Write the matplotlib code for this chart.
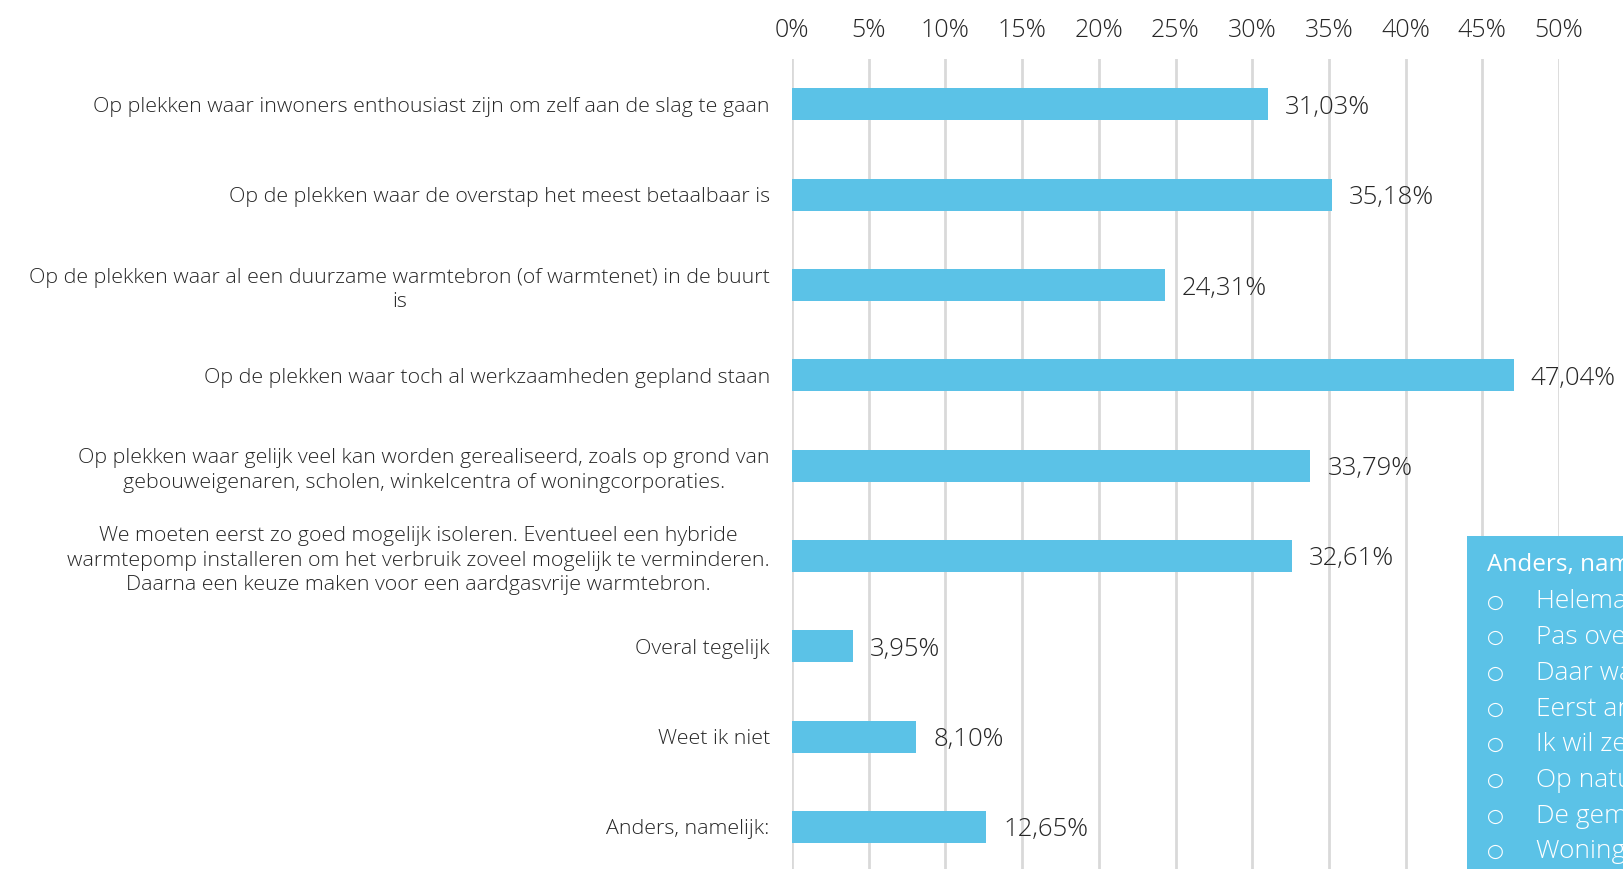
import matplotlib
matplotlib.use("Agg")
import matplotlib.pyplot as plt
from matplotlib.patches import Rectangle

categories = [
    "Op plekken waar inwoners enthousiast zijn om zelf aan de slag te gaan",
    "Op de plekken waar de overstap het meest betaalbaar is",
    "Op de plekken waar al een duurzame warmtebron (of warmtenet) in de buurt\nis",
    "Op de plekken waar toch al werkzaamheden gepland staan",
    "Op plekken waar gelijk veel kan worden gerealiseerd, zoals op grond van\ngebouweigenaren, scholen, winkelcentra of woningcorporaties.",
    "We moeten eerst zo goed mogelijk isoleren. Eventueel een hybride\nwarmtepomp installeren om het verbruik zoveel mogelijk te verminderen.\nDaarna een keuze maken voor een aardgasvrije warmtebron.",
    "Overal tegelijk",
    "Weet ik niet",
    "Anders, namelijk:",
]
values = [31.03, 35.18, 24.31, 47.04, 33.79, 32.61, 3.95, 8.10, 12.65]
ticks = [0, 5, 10, 15, 20, 25, 30, 35, 40, 45, 50]
box_title = "Anders, namelijk:"
box_items = [
    "Helemaal niet",
    "Pas over een aantal jaren",
    "Daar waar het kan",
    "Eerst andere maatregelen",
    "Ik wil zelf kunnen kiezen",
    "Op natuurlijke momenten",
    "De gemeente moet bepalen",
    "Woningcorporaties eerst",
]

plt.rcParams["font.family"] = ["Open Sans", "DejaVu Sans"]

BAR = "#5BC2E7"
TXT = "#262626"
FW = 300

W, H = 1623, 869
fig = plt.figure(figsize=(W / 100, H / 100), dpi=100)
ax = fig.add_axes([792 / W, 1 - 872 / H, 767 / W, 812.7 / H])

y = list(range(len(categories)))
ax.barh(y, values, height=0.355, color=BAR, zorder=2)
ax.set_ylim(len(categories) - 0.5, -0.5)
ax.set_xlim(0, 50)
ax.set_xticks(ticks)
ax.set_xticklabels([f"{t}%" for t in ticks], fontsize=18, color=TXT, fontweight=FW)
ax.xaxis.tick_top()
ax.tick_params(axis="x", length=0, pad=12)
ax.set_yticks(y)
ax.set_yticklabels(categories, fontsize=15.4, color=TXT, fontweight=FW,
                   multialignment="center", linespacing=1.3)
ax.tick_params(axis="y", length=0, pad=16)
ax.grid(axis="x", color="#d9d9d9", linewidth=2, zorder=0)
ax.set_axisbelow(True)
for s in ax.spines.values():
    s.set_visible(False)

for yi, v in zip(y, values):
    ax.annotate(f"{v:.2f}%".replace(".", ","), xy=(v, yi), xytext=(17, -3),
                textcoords="offset pixels", va="center", ha="left",
                fontsize=18.5, color=TXT, fontweight=FW, annotation_clip=False)

bx0 = 1467 / W
by1 = 1 - 536 / H
fig.add_artist(Rectangle((bx0, 0), 1 - bx0, by1, transform=fig.transFigure,
                         facecolor=BAR, edgecolor="none", zorder=5))
fig.text(1487 / W, 1 - 565 / H, box_title, color="white", fontsize=17.5,
         va="center", ha="left", zorder=6)
for i, item in enumerate(box_items):
    yy = 1 - (602 + i * 35.7) / H
    fig.text(1495 / W, yy, "○", color="white", fontsize=14, va="center",
             ha="center", zorder=6, family="DejaVu Sans")
    fig.text(1536 / W, yy, item, color="white", fontsize=19, va="center",
             ha="left", zorder=6, fontweight=FW)

fig.savefig("out.png", dpi=100)
